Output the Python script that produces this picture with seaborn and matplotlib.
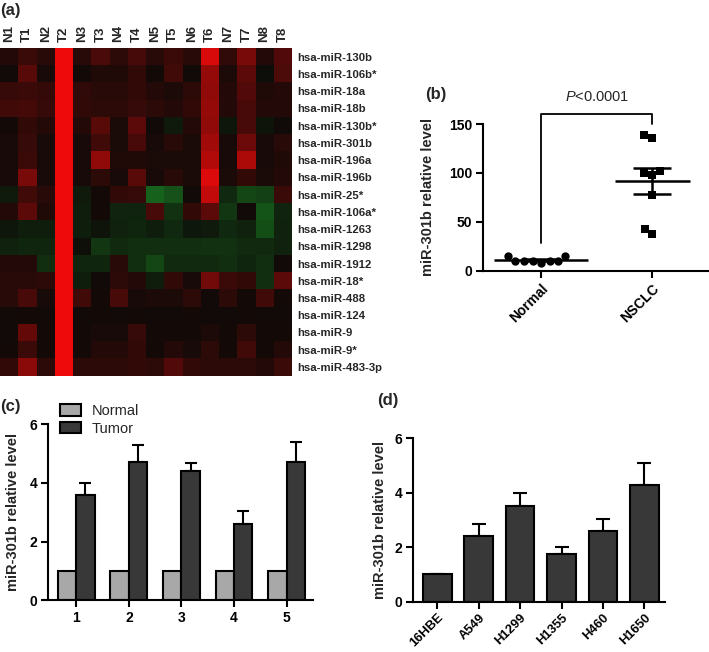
import numpy as np
import pandas as pd
import seaborn as sns
import matplotlib.pyplot as plt
from matplotlib.colors import LinearSegmentedColormap
from matplotlib.patches import Patch

# ---- data ----
samples = ["N1", "T1", "N2", "T2", "N3", "T3", "N4", "T4",
           "N5", "T5", "N6", "T6", "N7", "T7", "N8", "T8"]
mirnas = ["hsa-miR-130b", "hsa-miR-106b*", "hsa-miR-18a", "hsa-miR-18b",
          "hsa-miR-130b*", "hsa-miR-301b", "hsa-miR-196a", "hsa-miR-196b",
          "hsa-miR-25*", "hsa-miR-106a*", "hsa-miR-1263", "hsa-miR-1298",
          "hsa-miR-1912", "hsa-miR-18*", "hsa-miR-488", "hsa-miR-124",
          "hsa-miR-9", "hsa-miR-9*", "hsa-miR-483-3p"]
expr = [
    [0.10, 0.20, 0.12, 1.0, 0.12, 0.27, 0.14, 0.25, 0.12, 0.20, 0.12, 0.90, 0.15, 0.47, 0.10, 0.30],
    [0.02, 0.33, 0.04, 1.0, 0.03, 0.08, 0.08, 0.16, 0.03, 0.22, 0.02, 0.60, 0.07, 0.35, -0.02, 0.28],
    [0.18, 0.20, 0.17, 1.0, 0.15, 0.12, 0.12, 0.16, 0.10, 0.07, 0.14, 0.58, 0.10, 0.30, 0.08, 0.10],
    [0.22, 0.24, 0.18, 1.0, 0.16, 0.14, 0.14, 0.18, 0.14, 0.10, 0.16, 0.60, 0.10, 0.26, 0.10, 0.10],
    [0.03, 0.16, 0.10, 1.0, 0.10, 0.33, 0.06, 0.35, 0.02, -0.08, 0.10, 0.58, -0.06, 0.26, -0.05, 0.01],
    [0.04, 0.18, 0.04, 1.0, 0.04, 0.22, 0.06, 0.26, 0.04, 0.12, 0.06, 0.65, 0.04, 0.42, 0.04, 0.12],
    [0.04, 0.20, 0.04, 1.0, 0.04, 0.58, 0.08, 0.08, 0.06, 0.06, 0.06, 0.73, 0.04, 0.70, 0.04, 0.08],
    [0.04, 0.47, 0.04, 1.0, 0.04, 0.14, 0.04, 0.33, 0.04, 0.12, 0.06, 0.92, 0.06, 0.16, 0.06, 0.10],
    [-0.08, 0.22, 0.12, 1.0, -0.08, 0.03, 0.16, 0.18, -0.45, -0.36, 0.02, 0.80, -0.15, -0.30, -0.28, 0.20],
    [0.10, 0.35, 0.08, 1.0, -0.10, 0.03, -0.13, -0.13, 0.26, -0.20, 0.16, 0.35, -0.22, 0.02, -0.38, -0.13],
    [-0.06, -0.10, -0.10, 1.0, -0.10, -0.05, -0.12, -0.14, -0.10, -0.15, -0.07, -0.08, -0.15, -0.12, -0.35, -0.12],
    [-0.12, -0.14, -0.14, 1.0, -0.03, -0.22, -0.16, -0.18, -0.18, -0.18, -0.18, -0.20, -0.20, -0.16, -0.16, -0.12],
    [0.10, 0.10, -0.18, 1.0, -0.14, -0.14, 0.12, -0.18, -0.30, -0.16, -0.16, -0.16, -0.18, -0.14, -0.18, 0.02],
    [0.12, 0.12, 0.14, 1.0, -0.10, 0.02, 0.14, 0.10, -0.10, 0.16, 0.05, 0.45, 0.20, 0.16, -0.18, 0.35],
    [0.12, 0.26, 0.05, 1.0, 0.22, 0.03, 0.26, 0.05, 0.07, 0.07, 0.14, 0.02, 0.14, 0.03, 0.22, 0.03],
    [0.02, 0.03, 0.02, 1.0, 0.02, 0.03, 0.02, 0.03, 0.02, 0.02, 0.03, 0.02, 0.02, 0.03, 0.02, 0.02],
    [0.02, 0.38, 0.03, 1.0, 0.03, 0.05, 0.05, 0.18, 0.03, 0.03, 0.03, 0.07, 0.03, 0.14, 0.03, 0.03],
    [0.03, 0.20, 0.03, 1.0, 0.03, 0.10, 0.10, 0.16, 0.03, 0.10, 0.05, 0.14, 0.03, 0.22, 0.03, 0.10],
    [0.16, 0.55, 0.14, 1.0, 0.14, 0.14, 0.14, 0.16, 0.14, 0.30, 0.16, 0.14, 0.14, 0.14, 0.10, 0.20],
]

normal_b = [15, 9.5, 9.5, 15, 7.5, 9.5, 9.5, 9.5]
nsclc_b = [139, 136, 102, 100, 97.5, 77, 42.5, 37.5]

patients = ["1", "2", "3", "4", "5"]
normal_c = [1, 1, 1, 1, 1]
tumor_c = [3.6, 4.7, 4.4, 2.6, 4.7]
tumor_err_c = [0.4, 0.6, 0.27, 0.45, 0.7]

cell_lines = ["16HBE", "A549", "H1299", "H1355", "H460", "H1650"]
level_d = [1.0, 2.4, 3.5, 1.75, 2.6, 4.3]
err_d = [0, 0.45, 0.5, 0.27, 0.42, 0.8]

# ---- style ----
sns.set_style("ticks")
plt.rcParams['font.family'] = ['Liberation Sans', 'DejaVu Sans']
plt.rcParams['mathtext.fontset'] = 'custom'
plt.rcParams['mathtext.rm'] = 'Liberation Sans'
plt.rcParams['mathtext.it'] = 'Liberation Sans:italic'
plt.rcParams['axes.linewidth'] = 1.5
plt.rcParams['axes.edgecolor'] = 'black'

fig = plt.figure(figsize=(7.09, 6.52), dpi=100)
W, H = 709, 652


def px_axes(left, top, right, bottom):
    return fig.add_axes([left / W, 1 - bottom / H, (right - left) / W, (bottom - top) / H])


def style_axes(ax, ylab, label_x):
    sns.despine(ax=ax)
    ax.tick_params(length=5, width=1.5, labelsize=10, colors='black', pad=3)
    for lbl in ax.get_xticklabels() + ax.get_yticklabels():
        lbl.set_fontweight('bold')
    ax.set_xlabel('')
    ax.set_ylabel(ylab, fontsize=10.5, fontweight='bold')
    ax.yaxis.set_label_coords(label_x, 0.5)


# ---- (a) heatmap ----
ax_a = px_axes(0, 48, 292, 375.6)
df_a = pd.DataFrame(expr, index=mirnas, columns=samples)
cmap = LinearSegmentedColormap.from_list("gbr", ["#22cc33", "#0d0a08", "#ee0a0a"])
sns.heatmap(df_a, cmap=cmap, vmin=-1, vmax=1, cbar=False, ax=ax_a)
ax_a.xaxis.tick_top()
ax_a.yaxis.tick_right()
ax_a.tick_params(length=0, pad=4)
ax_a.set_xticklabels(samples, rotation=90, fontsize=9.5, fontweight='bold')
ax_a.set_yticklabels(mirnas, rotation=0, fontsize=8.2, fontweight='bold', ha='left')
ax_a.set_xlabel('')
ax_a.set_ylabel('')

# ---- (b) scatter ----
ax_b = px_axes(483.3, 124, 708, 270.7)
order_b = ["Normal", "NSCLC"]
sns.swarmplot(x=["Normal"] * len(normal_b), y=normal_b, order=order_b, marker='o',
              color='black', size=6, ax=ax_b)
sns.swarmplot(x=["NSCLC"] * len(nsclc_b), y=nsclc_b, order=order_b, marker='s',
              color='black', size=6, ax=ax_b)
for i, (vals, half) in enumerate([(normal_b, 0.42), (nsclc_b, 0.34)]):
    m = np.mean(vals)
    sem = np.std(vals, ddof=1) / np.sqrt(len(vals))
    ax_b.hlines(m, i - half, i + half, color='black', lw=1.8)
    ax_b.errorbar(i, m, yerr=sem, fmt='none', ecolor='black', elinewidth=1.8,
                  capsize=14, capthick=1.8)
ax_b.plot([0, 0, 1, 1], [28, 160, 160, 150], color='black', lw=1.3, clip_on=False)
ax_b.text(0.5, 178, r"$\mathit{P}$<0.0001", ha='center', va='center', fontsize=10.5)
ax_b.set_ylim(0, 150)
ax_b.set_yticks([0, 50, 100, 150])
ax_b.set_xlim(-0.52, 1.5)
ax_b.set_xticks([0, 1])
ax_b.set_xticklabels(order_b, rotation=45, ha='right', rotation_mode='anchor')
style_axes(ax_b, "miR-301b relative level", -0.215)

# ---- (c) paired bars ----
ax_c = px_axes(48.3, 424.3, 313, 600.3)
df_c = pd.DataFrame({
    "patient": patients * 2,
    "level": normal_c + tumor_c,
    "group": ["Normal"] * len(patients) + ["Tumor"] * len(patients),
})
sns.barplot(data=df_c, x="patient", y="level", hue="group", palette=["#a8a8a8", "#383838"],
            width=0.7, gap=0, edgecolor='black', linewidth=1.5, errorbar=None,
            legend=False, ax=ax_c)
tumor_bars = ax_c.containers[1]
xs = [b.get_x() + b.get_width() / 2 for b in tumor_bars]
ax_c.errorbar(xs, tumor_c, yerr=[np.zeros(len(tumor_c)), tumor_err_c], fmt='none',
              ecolor='black', elinewidth=1.5, capsize=4.5, capthick=1.5, zorder=0.5)
ax_c.set_ylim(0, 6)
ax_c.set_yticks([0, 2, 4, 6])
ax_c.set_xlim(-0.53, 4.5)
style_axes(ax_c, "miR-301b relative level", -0.107)
handles = [Patch(facecolor="#a8a8a8", edgecolor='black', linewidth=1.5, label="Normal"),
           Patch(facecolor="#383838", edgecolor='black', linewidth=1.5, label="Tumor")]
fig.legend(handles=handles, loc='upper left', bbox_to_anchor=(60 / W, 1 - 404 / H),
           frameon=False, fontsize=10.5, handlelength=1.45, handleheight=0.8,
           handletextpad=0.7, labelspacing=0.25, borderpad=0, borderaxespad=0)

# ---- (d) cell lines ----
ax_d = px_axes(413.3, 438.2, 665, 601.7)
sns.barplot(x=cell_lines, y=level_d, color="#383838", width=0.69, edgecolor='black',
            linewidth=1.5, errorbar=None, ax=ax_d)
ax_d.errorbar(range(len(cell_lines)), level_d, yerr=[np.zeros(len(err_d)), err_d], fmt='none',
              ecolor='black', elinewidth=1.5, capsize=5, capthick=1.5, zorder=0.5)
ax_d.set_ylim(0, 6)
ax_d.set_yticks([0, 2, 4, 6])
ax_d.set_xlim(-0.58, 5.5)
ax_d.set_xticks(range(len(cell_lines)))
ax_d.set_xticklabels(cell_lines, rotation=45, ha='right', rotation_mode='anchor')
style_axes(ax_d, "miR-301b relative level", -0.104)
ax_d.tick_params(axis='x', labelsize=9.3, pad=2)

# ---- panel letters ----
for lab, x, y in [("(a)", 0, 10), ("(b)", 425, 95), ("(c)", 0, 407), ("(d)", 377, 401)]:
    fig.text(x / W, 1 - y / H, lab, fontsize=12, fontweight='bold', ha='left', va='center')

fig.savefig("out.png", dpi=100)
